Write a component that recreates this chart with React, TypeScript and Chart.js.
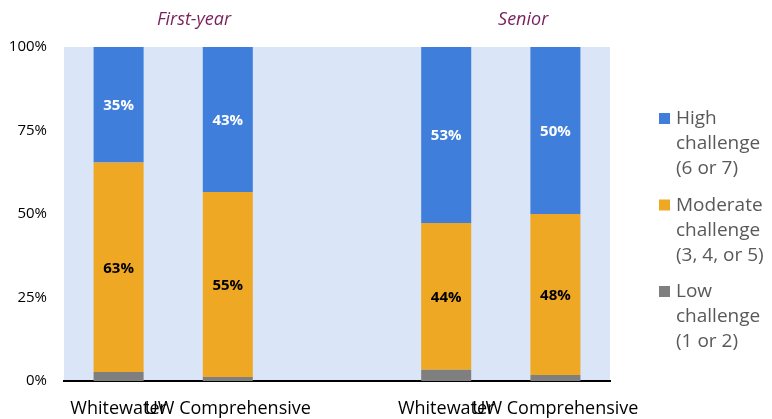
import React, { useEffect, useRef } from "react";
import { Chart, registerables } from "chart.js";

Chart.register(...registerables);

const categories = ["Whitewater", "UW Comprehensive", "", "Whitewater", "UW Comprehensive"];
const lowValues = [2.7, 1.2, null, 3.4, 1.8];
const moderateValues = [62.7, 55.4, null, 43.9, 48.2];
const highValues = [34.6, 43.4, null, 52.7, 50.0];
const seriesNames = [
  ["Low", "challenge", "(1 or 2)"],
  ["Moderate", "challenge", "(3, 4, or 5)"],
  ["High", "challenge", "(6 or 7)"],
];
const groupTitles = ["First-year", "Senior"];
const yTicks = [0, 25, 50, 75, 100];

const FONT = "'Open Sans', 'DejaVu Sans', sans-serif";
const COLORS = ["#7F7F7F", "#EEA823", "#3F7FDB"];
const LABEL_COLORS = [null, "#000000", "#FFFFFF"];

const bgPlugin = {
  id: "plotBg",
  beforeDraw(chart: any) {
    const { ctx, chartArea } = chart;
    ctx.save();
    ctx.fillStyle = "#DAE5F7";
    ctx.fillRect(chartArea.left, chartArea.top, chartArea.right - chartArea.left, chartArea.bottom - chartArea.top);
    ctx.restore();
  },
};

const labelsPlugin = {
  id: "segLabels",
  afterDatasetsDraw(chart: any) {
    const { ctx } = chart;
    ctx.save();
    ctx.font = `bold 15px ${FONT}`;
    ctx.textAlign = "center";
    ctx.textBaseline = "middle";
    chart.data.datasets.forEach((ds: any, di: number) => {
      const color = LABEL_COLORS[di];
      if (!color) return;
      const meta = chart.getDatasetMeta(di);
      meta.data.forEach((bar: any, i: number) => {
        const v = ds.data[i];
        if (v == null) return;
        const cy = (bar.y + bar.base) / 2;
        ctx.fillStyle = color;
        ctx.fillText(`${Math.round(v)}%`, bar.x, cy + 1);
      });
    });
    ctx.restore();
  },
};

const titlesPlugin = {
  id: "groupTitles",
  afterDraw(chart: any) {
    const { ctx, chartArea } = chart;
    const w = chartArea.right - chartArea.left;
    const fr = [0.238, 0.841];
    ctx.save();
    ctx.font = `italic 18px ${FONT}`;
    ctx.fillStyle = "#7A1F5C";
    ctx.textAlign = "center";
    ctx.textBaseline = "middle";
    groupTitles.forEach((t, i) => {
      ctx.fillText(t, chartArea.left + w * fr[i], 20);
    });
    ctx.restore();
  },
};

const legendPlugin = {
  id: "customLegend",
  afterDraw(chart: any) {
    const { ctx, chartArea } = chart;
    const x0 = chartArea.right + 49;
    const order = [2, 1, 0];
    ctx.save();
    ctx.font = `19px ${FONT}`;
    ctx.textBaseline = "middle";
    order.forEach((di, k) => {
      const yTop = 119 + k * 86.5;
      ctx.fillStyle = COLORS[di];
      ctx.fillRect(x0, yTop - 6, 11, 11);
      ctx.fillStyle = "#595959";
      seriesNames[di].forEach((line, li) => {
        ctx.fillText(line, x0 + 17, yTop + li * 25);
      });
    });
    ctx.restore();
  },
};

export default function App() {
  const ref = useRef<HTMLCanvasElement>(null);
  useEffect(() => {
    document.body.style.margin = "0";
    const chart = new Chart(ref.current!, {
      type: "bar",
      data: {
        labels: categories,
        datasets: [lowValues, moderateValues, highValues].map((d, i) => ({
          label: seriesNames[i].join(" "),
          data: d as any,
          backgroundColor: COLORS[i],
          borderWidth: 0,
          categoryPercentage: 1,
          barPercentage: 0.458,
        })),
      },
      options: {
        animation: false,
        responsive: false,
        maintainAspectRatio: false,
        layout: { padding: { top: 47, right: 162, left: 0, bottom: 0 } },
        plugins: {
          legend: { display: false },
          tooltip: { enabled: false },
        },
        scales: {
          x: {
            stacked: true,
            grid: { display: false, drawTicks: false },
            border: { display: true, color: "#000000", width: 2 },
            ticks: {
              autoSkip: false,
              maxRotation: 0,
              minRotation: 0,
              padding: 17,
              color: "#000000",
              font: { family: FONT, size: 18 },
            },
            afterFit(scale: any) {
              scale.height = 38;
            },
          },
          y: {
            stacked: true,
            min: 0,
            max: 100,
            afterBuildTicks(scale: any) {
              scale.ticks = yTicks.map((v) => ({ value: v }));
            },
            grid: { display: false, drawTicks: false },
            border: { display: false },
            ticks: {
              padding: 17,
              color: "#000000",
              font: { family: FONT, size: 15 },
              callback: (v: any) => `${v}%`,
            },
            afterFit(scale: any) {
              scale.width = 64;
            },
          },
        },
      },
      plugins: [bgPlugin, labelsPlugin, titlesPlugin, legendPlugin],
    });
    return () => chart.destroy();
  }, []);
  return (
    <div style={{ width: 772, height: 419, background: "#FFFFFF" }}>
      <canvas ref={ref} width={772} height={419} />
    </div>
  );
}
